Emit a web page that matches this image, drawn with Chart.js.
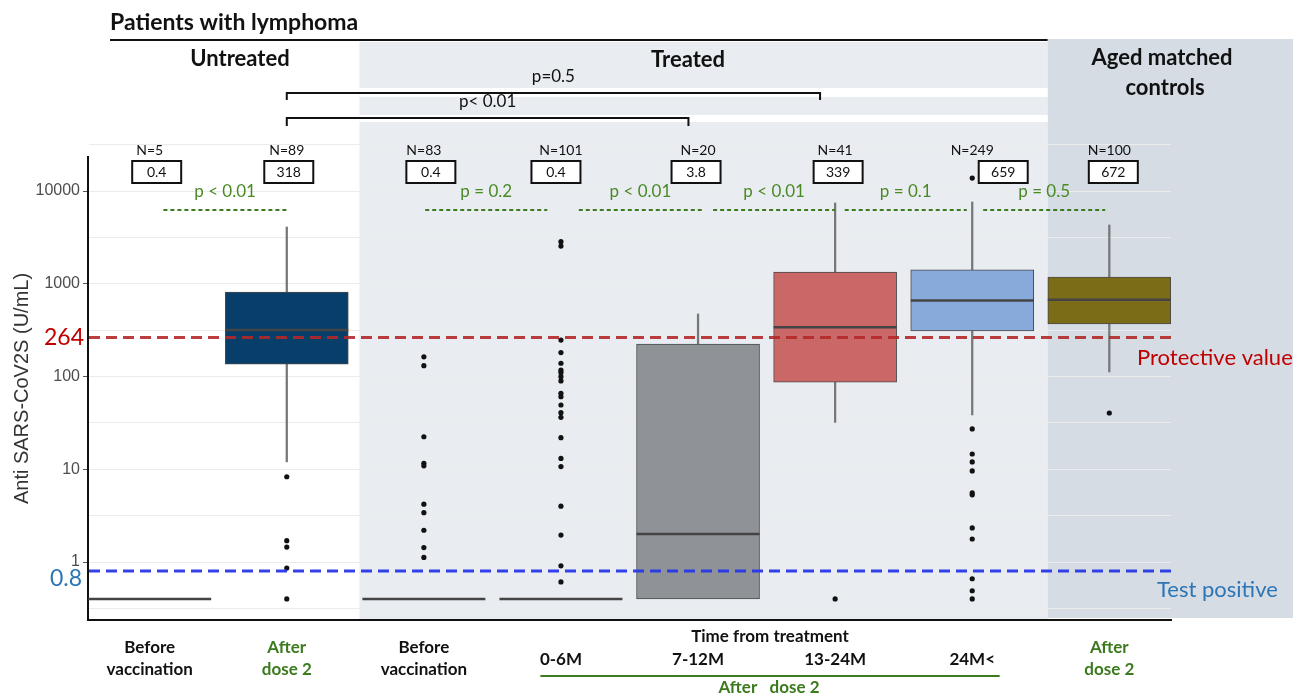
<!DOCTYPE html>
<html>
<head>
<meta charset="utf-8">
<script src="https://cdn.jsdelivr.net/npm/chart.js@4.4.0/dist/chart.umd.min.js"></script>
<style>
  html, body { margin: 0; padding: 0; background: #fff; }
</style>
</head>
<body>
<canvas id="chart" width="1301" height="697"></canvas>
<script>
// ---- data ----
const categoryLines = [
  ['Before', 'vaccination'], ['After', 'dose 2'], ['Before', 'vaccination'],
  ['0-6M'], ['7-12M'], ['13-24M'], ['24M<'], ['After', 'dose 2']
];
const groupN = [5, 89, 83, 101, 20, 41, 249, 100];
const medianLabels = ['0.4', '318', '0.4', '0.4', '3.8', '339', '659', '672'];

// box statistics (null = whole group sits at the 0.4 floor)
const q1 = [null, 136, null, null, 0.4, 87, 310, 368];
const q3 = [null, 815, null, null, 224, 1340, 1410, 1180];
const median = [0.4, 318, 0.4, 0.4, 2.0, 339, 659, 672];
const whiskerLow = [null, 12, null, null, null, 32, 38.5, 112];
const whiskerHigh = [null, 4090, null, null, 472, 7430, 7610, 4300];
const outliers = [
  [],
  [8.3, 1.7, 1.45, 0.86, 0.4],
  [163, 131, 22.4, 11.6, 10.9, 4.2, 3.4, 2.2, 1.43, 1.12],
  [2840, 2550, 247, 181, 139, 117, 110, 99.5, 89.5, 65.9, 60.6, 49.3, 40.7, 36.3, 21.9, 13.1, 10.7, 4.0, 1.95, 0.91, 0.61],
  [],
  [0.4],
  [13800, 27.2, 14.6, 12.0, 9.6, 5.55, 5.3, 2.33, 1.77, 0.66, 0.49, 0.4],
  [40.4]
];

const pAdjacent = ['p < 0.01', 'p = 0.2', 'p < 0.01', 'p < 0.01', 'p = 0.1', 'p = 0.5'];
const pBrackets = ['p=0.5', 'p< 0.01'];
const protectiveValue = 264;
const testPositive = 0.8;
const yTicks = [1, 10, 100, 1000, 10000];

// ---- styling / layout ----
const boxColors = ['#555', '#073e6a', '#555', '#555', '#8f9297', '#c96866', '#87aadb', '#7b6c18'];
const green = '#3b7a1e';
const labelColors = ['#111', green, '#111', '#111', '#111', '#111', '#111', green];
const BOX_W = 123;

const boxData = [], boxCol = [], upper = [], lower = [], medians = [], dots = [];
categoryLines.forEach((c, i) => {
  const x = i + 1;
  if (q1[i] != null) { boxData.push({ x, y: [q1[i], q3[i]] }); boxCol.push(boxColors[i]); }
  if (whiskerHigh[i] != null) upper.push({ x, y: [q3[i], whiskerHigh[i]] });
  if (whiskerLow[i] != null) lower.push({ x, y: [whiskerLow[i], q1[i]] });
  medians.push({ x, y: median[i] });
  outliers[i].forEach(v => dots.push({ x, y: v }));
});

// half-decade grid positions
const gridVals = [Math.pow(10, -0.5)];
yTicks.forEach(v => { gridVals.push(v); gridVals.push(v * Math.sqrt(10)); });

function txt(ctx, s, x, y, font, color, align) {
  ctx.font = font;
  ctx.fillStyle = color;
  ctx.textAlign = align || 'center';
  ctx.textBaseline = 'middle';
  ctx.fillText(s, x, y);
}
function line(ctx, x1, y1, x2, y2) {
  ctx.beginPath(); ctx.moveTo(x1, y1); ctx.lineTo(x2, y2); ctx.stroke();
}

const annotate = {
  id: 'annotate',
  beforeDraw(chart) {
    const { ctx, chartArea: a, scales: { x } } = chart;
    const tl = x.getPixelForValue(2.53), tr = x.getPixelForValue(7.55), cr = x.getPixelForValue(9.34);
    ctx.save();
    ctx.fillStyle = '#e9ecf1';
    ctx.fillRect(tl, 42, tr - tl, a.bottom - 42);
    ctx.fillStyle = '#d5dce4';
    ctx.fillRect(tr, 39, cr - tr, a.bottom - 2 - 39);
    ctx.fillStyle = '#fff';
    ctx.fillRect(tl, 88, tr - tl, 9);
    ctx.fillRect(tl, 115, tr - tl, 7);
    ctx.restore();
  },
  afterDatasetsDraw(chart) {
    const { ctx, chartArea: a, scales: { y } } = chart;
    const yP = y.getPixelForValue(protectiveValue), yT = y.getPixelForValue(testPositive);
    ctx.save();
    ctx.lineWidth = 3;
    ctx.setLineDash([11, 6]);
    ctx.strokeStyle = 'rgba(180,40,40,0.9)';
    line(ctx, a.left + 1, yP, a.right, yP);
    ctx.strokeStyle = 'rgba(40,55,230,0.95)';
    line(ctx, a.left + 1, yT, a.right, yT);
    ctx.restore();
  },
  afterDraw(chart) {
    const { ctx, chartArea: a, scales: { x, y } } = chart;
    const px = v => x.getPixelForValue(v);
    ctx.save();
    const yP = y.getPixelForValue(protectiveValue), yT = y.getPixelForValue(testPositive);
    txt(ctx, String(protectiveValue), 84, yP, '23px Lato', '#c00000', 'right');
    txt(ctx, String(testPositive), 82, yT + 8, '23px Lato', '#2e75b6', 'right');
    txt(ctx, 'Protective value', 1137, yP + 21, '22px Lato', '#c00000', 'left');
    txt(ctx, 'Test positive', 1157, yT + 19, '22px Lato', '#2e75b6', 'left');

    // headers
    txt(ctx, 'Patients with lymphoma', 110, 23, 'bold 23px Lato', '#111', 'left');
    ctx.strokeStyle = '#111'; ctx.lineWidth = 2;
    line(ctx, 110, 40, px(7.55), 40);
    txt(ctx, 'Untreated', 240, 59, 'bold 22px Lato', '#111');
    txt(ctx, 'Treated', 688, 60, 'bold 22px Lato', '#111');
    txt(ctx, 'Aged matched', 1162, 58, 'bold 22px Lato', '#111');
    txt(ctx, 'controls', 1165, 88, 'bold 22px Lato', '#111');

    // brackets between untreated after dose 2 and treated groups
    const spans = [[2, 5.89, 93, 100], [2, 4.93, 118, 126]];
    spans.forEach((s, i) => {
      const x1 = px(s[0]), x2 = px(s[1]);
      ctx.beginPath();
      ctx.moveTo(x1, s[3]); ctx.lineTo(x1, s[2]); ctx.lineTo(x2, s[2]); ctx.lineTo(x2, s[3]);
      ctx.stroke();
      txt(ctx, pBrackets[i], (x1 + x2) / 2, s[2] - 16, '17px Lato', '#111');
    });

    // N and median boxes
    const boxShift = [7, 2, 7, -5, -2, 3, 31, 4];
    groupN.forEach((n, i) => {
      const cx = px(i + 1);
      txt(ctx, 'N=' + n, cx, 150, '14px Lato', '#111');
      const bx = cx + boxShift[i];
      ctx.fillStyle = '#fff';
      ctx.fillRect(bx - 24.5, 161, 49, 22);
      ctx.strokeStyle = '#111'; ctx.lineWidth = 2;
      ctx.strokeRect(bx - 24.5, 161, 49, 22);
      txt(ctx, medianLabels[i], bx, 172.5, '14px Lato', '#111');
    });

    // adjacent comparisons
    const adj = [[1.10, 2.0], [3.01, 3.9], [4.13, 5.03], [5.11, 6.0], [6.07, 6.96], [7.08, 7.97]];
    adj.forEach((s, i) => {
      const x1 = px(s[0]), x2 = px(s[1]);
      ctx.save();
      ctx.strokeStyle = green; ctx.lineWidth = 2; ctx.setLineDash([4, 3]);
      line(ctx, x1, 210, x2, 210);
      ctx.restore();
      txt(ctx, pAdjacent[i], (x1 + x2) / 2, 192, '17px Lato', '#4a8a26');
    });

    // category labels
    categoryLines.forEach((ls, i) => {
      const cx = px(i + 1);
      if (ls.length === 2) {
        txt(ctx, ls[0], cx, 648, 'bold 17px Lato', labelColors[i]);
        txt(ctx, ls[1], cx, 670, 'bold 17px Lato', labelColors[i]);
      } else {
        txt(ctx, ls[0], cx, 660, 'bold 17px Lato', labelColors[i]);
      }
    });
    txt(ctx, 'Time from treatment', 770, 637, 'bold 17px Lato', '#111');
    ctx.strokeStyle = green; ctx.lineWidth = 2;
    line(ctx, px(3.85), 676, px(7.2), 676);
    txt(ctx, 'After   dose 2', 769, 688, 'bold 17px Lato', green);
    ctx.restore();
  }
};

Chart.defaults.font.family = 'Liberation Sans';

new Chart(document.getElementById('chart'), {
  type: 'bar',
  data: {
    datasets: [
      { type: 'bar', data: upper, backgroundColor: '#777', barThickness: 1.6, grouped: false, order: 5 },
      { type: 'bar', data: lower, backgroundColor: '#777', barThickness: 1.6, grouped: false, order: 5 },
      { type: 'bar', data: boxData, backgroundColor: boxCol, borderColor: '#4a4a4a', borderWidth: 1,
        borderSkipped: false, barThickness: BOX_W, grouped: false, order: 4 },
      { type: 'scatter', data: medians, pointStyle: 'line', pointRadius: BOX_W / 2, borderColor: '#444',
        pointBorderWidth: 2.5, borderWidth: 2.5, order: 3 },
      { type: 'scatter', data: dots, pointRadius: 2.6, backgroundColor: '#111', borderColor: '#111', borderWidth: 0, order: 2 }
    ]
  },
  options: {
    responsive: false,
    animation: false,
    events: [],
    layout: { padding: { top: 157, right: 130, bottom: 77, left: 0 } },
    plugins: { legend: { display: false }, tooltip: { enabled: false } },
    scales: {
      x: {
        type: 'linear', min: 0.55, max: 8.45, offset: false,
        grid: { display: false, drawTicks: false },
        ticks: { display: false },
        border: { display: true, color: '#111', width: 2 },
        afterFit: s => { s.height = 0; }
      },
      y: {
        type: 'logarithmic', min: 0.237, max: 23260, bounds: 'data',
        afterBuildTicks: s => { s.ticks = gridVals.map(v => ({ value: v })); },
        afterFit: s => { s.width = 88; },
        ticks: {
          autoSkip: false, padding: 3, color: '#4d4d4d', font: { size: 16 },
          callback: v => (yTicks.includes(v) ? String(v) : '')
        },
        grid: {
          color: '#ebebeb', lineWidth: 1, tickLength: 5,
          tickColor: c => (c.tick && yTicks.includes(c.tick.value) ? '#555' : 'rgba(0,0,0,0)')
        },
        border: { display: true, color: '#111', width: 2 },
        title: { display: true, text: 'Anti SARS-CoV2S (U/mL)', color: '#333', font: { size: 20 },
          padding: { top: 10, bottom: 4 } }
      }
    }
  },
  plugins: [annotate]
});
</script>
</body>
</html>
